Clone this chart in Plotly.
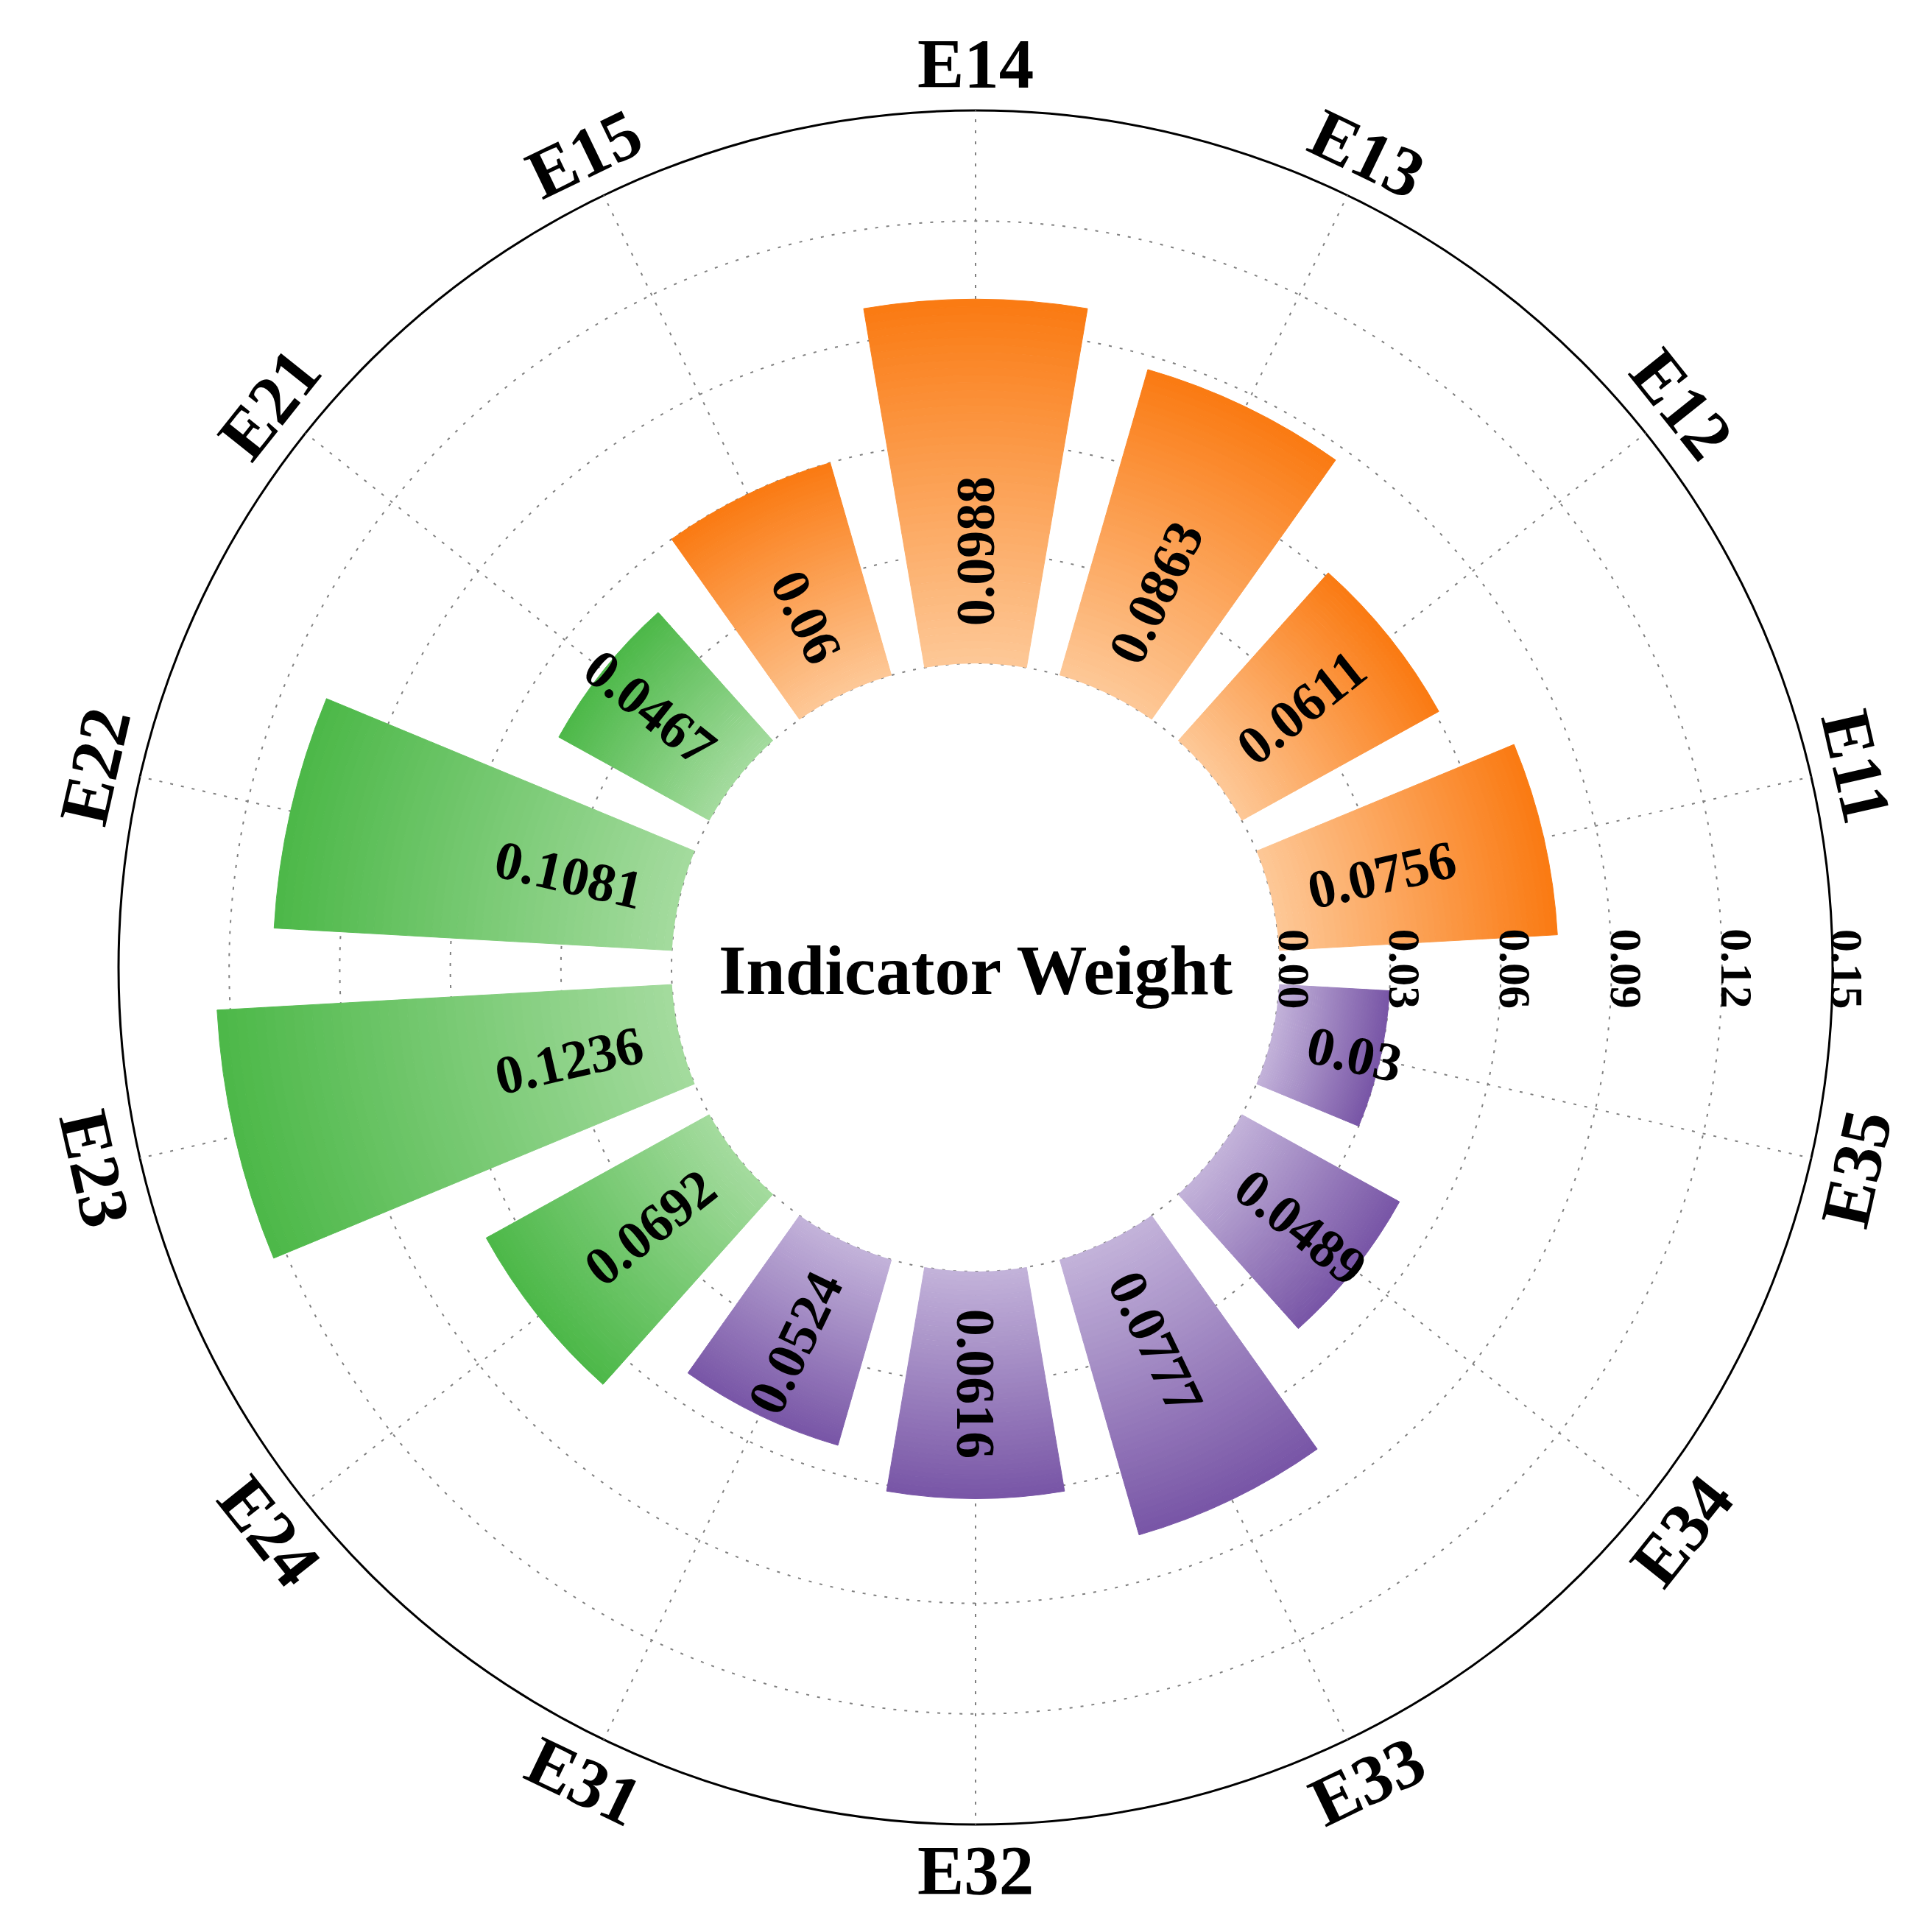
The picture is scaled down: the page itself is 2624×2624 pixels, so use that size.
import math

import plotly.graph_objects as go

categories = ["E11", "E12", "E13", "E14", "E15",
              "E21", "E22", "E23", "E24",
              "E31", "E32", "E33", "E34", "E35"]
weights = [0.0756, 0.0611, 0.0863, 0.0988, 0.06,
           0.0467, 0.1081, 0.1236, 0.0692,
           0.0524, 0.0616, 0.0777, 0.0489, 0.03]
groups = ["E1"] * 5 + ["E2"] * 4 + ["E3"] * 5

radial_ticks = [0.0, 0.03, 0.06, 0.09, 0.12, 0.15]
radial_labels = ["0.00", "0.03", "0.06", "0.09", "0.12", "0.15"]

light = {"E1": "#FDC897", "E2": "#A4DB9E", "E3": "#C3B3DA"}
dark = {"E1": "#FA7A12", "E2": "#4CB848", "E3": "#7855A6"}

FONT = "Liberation Serif, Times New Roman, serif"
W = H = 2624
cx, cy, R = 1317, 1306, 1164
ml, mr, mt, mb = cx - R, W - cx - R, cy - R, H - cy - R
hole = 413 / R
rmax = 0.15
step = 360 / len(categories)
rotation = step / 2
n_seg = 48
grid_dash = "4px,11px"


def hex_rgb(c):
    c = c.lstrip("#")
    return [int(c[i:i + 2], 16) for i in (0, 2, 4)]


def blend(c1, c2, t):
    a, b = hex_rgb(c1), hex_rgb(c2)
    return "rgb({},{},{})".format(*[round(x + (y - x) * t) for x, y in zip(a, b)])


def r_px(v):
    return hole * R + (1 - hole) * R * v / rmax


def to_paper(theta, rp):
    a = math.radians(theta)
    x = cx + rp * math.cos(a)
    y = cy - rp * math.sin(a)
    return (x - ml) / (2 * R), (H - mb - y) / (2 * R)


def norm(a):
    a = a % 360
    return a - 360 if a > 180 else a


def text_len(s, size):
    return sum(0.25 if ch == "." else 0.5 for ch in s) * size


fig = go.Figure()
# gradient fill: every bar is split into thin stacked segments
for k in range(n_seg):
    t = (k + 0.5) / n_seg
    cols = [blend(light[g], dark[g], t) for g in groups]
    fig.add_trace(go.Barpolar(
        r=[w / n_seg for w in weights],
        theta=categories,
        marker={"color": cols, "line": {"color": cols, "width": 1}},
        hoverinfo="skip",
        showlegend=False,
    ))

annotations = []
for i, (cat, w) in enumerate(zip(categories, weights)):
    th = round(rotation + i * step, 6)
    # category label, tangential
    ccw = th - 90 if th <= 180 else th + 90
    x, y = to_paper(th, 1227)
    annotations.append(dict(
        x=x, y=y, xref="paper", yref="paper", text=f"<b>{cat}</b>",
        showarrow=False, textangle=-norm(ccw), xanchor="center", yanchor="middle",
        font={"family": FONT, "size": 95, "color": "black"},
    ))
    # value label, radial
    ccw = th - 180 if 90 < th < 270 else th
    s = str(w)
    x, y = to_paper(th, 464 + text_len(s, 74) / 2)
    annotations.append(dict(
        x=x, y=y, xref="paper", yref="paper", text=f"<b>{s}</b>",
        showarrow=False, textangle=-norm(ccw), xanchor="center", yanchor="middle",
        font={"family": FONT, "size": 74, "color": "black"},
    ))

for v, lab in zip(radial_ticks, radial_labels):
    x = (cx + r_px(v) + 20 - ml) / (2 * R)
    y = (H - mb - (cy + 2)) / (2 * R)
    annotations.append(dict(
        x=x, y=y, xref="paper", yref="paper", text=f"<b>{lab}</b>",
        showarrow=False, textangle=90, xanchor="center", yanchor="middle",
        font={"family": FONT, "size": 62, "color": "black"},
    ))

annotations.append(dict(
    x=0.5, y=0.5 - 3 / (2 * R), xref="paper", yref="paper",
    text="<b>Indicator Weight</b>", showarrow=False,
    xanchor="center", yanchor="middle",
    font={"family": FONT, "size": 96, "color": "black"},
))

# outer frame ring and dotted ring at the hole edge
shapes = [
    dict(type="circle", xref="paper", yref="paper", x0=0, y0=0, x1=1, y1=1,
         line={"color": "black", "width": 3}, layer="below"),
    dict(type="circle", xref="paper", yref="paper",
         x0=0.5 - hole / 2, y0=0.5 - hole / 2, x1=0.5 + hole / 2, y1=0.5 + hole / 2,
         line={"color": "#808080", "width": 2, "dash": grid_dash}, layer="below"),
]

fig.update_layout(
    width=W,
    height=H,
    margin={"l": ml, "r": mr, "t": mt, "b": mb, "pad": 0},
    paper_bgcolor="white",
    plot_bgcolor="white",
    font={"family": FONT, "color": "black"},
    annotations=annotations,
    shapes=shapes,
    polar={
        "domain": {"x": [0, 1], "y": [0, 1]},
        "bgcolor": "rgba(0,0,0,0)",
        "hole": hole,
        "barmode": "stack",
        "bargap": 0.25,
        "radialaxis": {
            "range": [0, rmax],
            "tickvals": radial_ticks,
            "showticklabels": False,
            "ticks": "",
            "showline": False,
            "gridcolor": "#808080",
            "gridwidth": 2,
            "griddash": grid_dash,
            "layer": "below traces",
        },
        "angularaxis": {
            "type": "category",
            "categoryarray": categories,
            "rotation": rotation,
            "direction": "counterclockwise",
            "showticklabels": False,
            "ticks": "",
            "showline": False,
            "gridcolor": "#808080",
            "gridwidth": 2,
            "griddash": grid_dash,
            "layer": "below traces",
        },
    },
)

fig.write_html("out.html")
